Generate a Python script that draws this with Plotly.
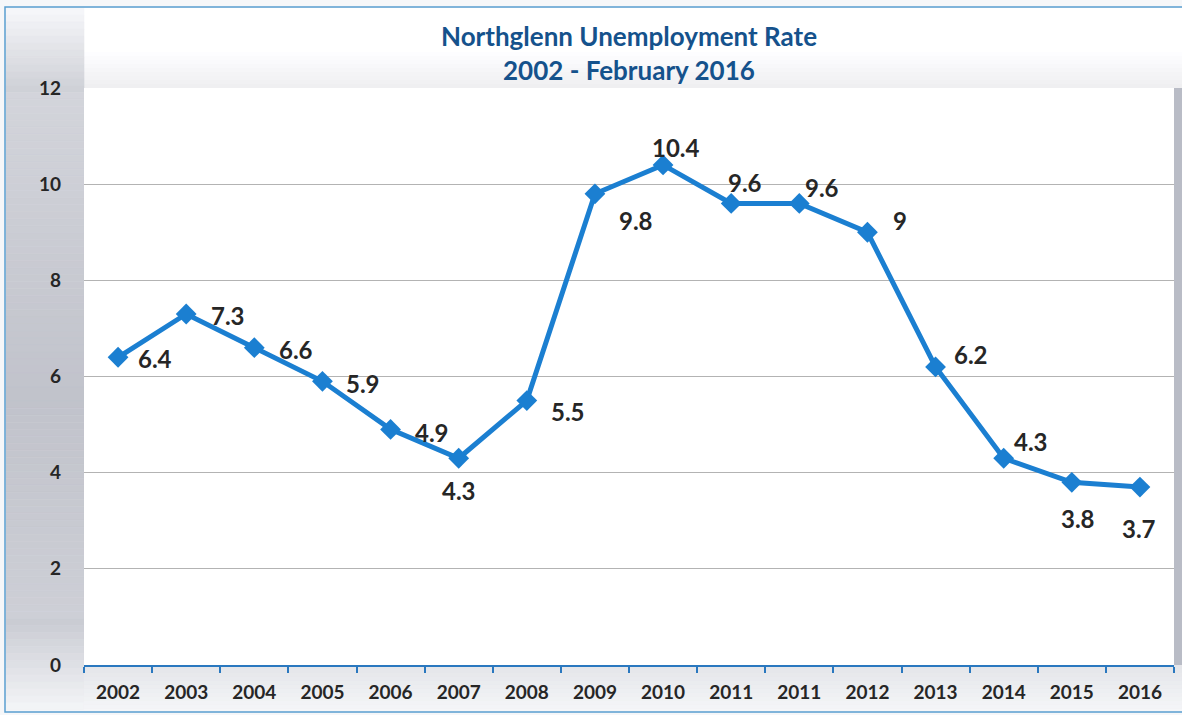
import plotly.graph_objects as go

years = ["2002", "2003", "2004", "2005", "2006", "2007", "2008", "2009",
         "2010", "2011", "2011", "2012", "2013", "2014", "2015", "2016"]
rates = [6.4, 7.3, 6.6, 5.9, 4.9, 4.3, 5.5, 9.8, 10.4, 9.6, 9.6, 9.0, 6.2, 4.3, 3.8, 3.7]
labels = ["6.4", "7.3", "6.6", "5.9", "4.9", "4.3", "5.5", "9.8", "10.4",
          "9.6", "9.6", "9", "6.2", "4.3", "3.8", "3.7"]
y_ticks = [0, 2, 4, 6, 8, 10, 12]

# label offsets (pixels) – style only
label_dx = [37, 42, 42, 41, 41, 0, 41, 41, 13, 14, 23, 33, 35, 27, 6, -1]
label_dy = [-1, -2, -2, -2, -3, -32, -11, -27, 17, 21, 16, 12, 12, 17, -36, -41]

xpos = list(range(len(years)))

LINE = "#1b7fd1"
TEXT = "#262626"
TITLE = "#15528c"
FONT = "Lato"

W, H = 1182, 715
L, R, T, B = 84, 8, 88, 50
pw, ph = W - L - R, H - T - B


def px_x(p):
    return (p - L) / pw


def px_y(p):
    return (H - B - p) / ph


fig = go.Figure()
fig.add_trace(go.Scatter(
    x=xpos, y=rates, mode="lines+markers",
    line=dict(color=LINE, width=5),
    marker=dict(symbol="diamond", size=16, color=LINE),
    hoverinfo="skip", showlegend=False,
))

annotations = []
for i, (v, t) in enumerate(zip(rates, labels)):
    annotations.append(dict(
        x=xpos[i], y=v, xref="x", yref="y", text=t, showarrow=False,
        xanchor="center", yanchor="middle",
        xshift=label_dx[i], yshift=label_dy[i],
        font=dict(family=FONT, size=24, color=TEXT, weight="bold"),
    ))
annotations.append(dict(x=0.5, y=px_y(36), xref="paper", yref="paper",
                        text="Northglenn Unemployment Rate", showarrow=False,
                        yanchor="middle",
                        font=dict(family=FONT, size=26, color=TITLE, weight="bold")))
annotations.append(dict(x=0.5, y=px_y(70), xref="paper", yref="paper",
                        text="2002 - February 2016", showarrow=False, yanchor="middle",
                        font=dict(family=FONT, size=26, color=TITLE, weight="bold")))

shapes = []
# top area: white fading to light gray near plot top
n_top = 20
for k in range(n_top):
    y0 = 8 + k * 4
    y1 = y0 + 4
    d = 0.0 if k < 10 else 0.07 * (k - 10) / (n_top - 10)
    c = int(round(255 - d * 255))
    shapes.append(dict(type="rect", xref="paper", yref="paper", layer="below",
                       x0=px_x(6), x1=px_x(W), y0=px_y(y1), y1=px_y(y0),
                       fillcolor=f"rgb({c},{c},{min(255, c + 2)})", line=dict(width=0)))
# left gradient strip (bands by y)
n = 100
step = (710 - 8) / n
for k in range(n):
    y0 = 8 + k * step
    y1 = y0 + step
    mid = (y0 + y1) / 2
    if mid < 90:
        d = 0.02 + 0.3 * (mid - 8) / 82
    elif mid < 620:
        d = 0.32 + 0.1 * (1 - abs(mid - 400) / 230)
    else:
        d = 0.32 * (1 - (mid - 620) / 90) + 0.04
    d = max(0.02, min(0.45, d))
    r = int(250 - d * 135)
    g = int(251 - d * 133)
    b = int(253 - d * 118)
    col = f"rgb({r},{g},{b})"
    shapes.append(dict(type="rect", xref="paper", yref="paper", layer="below",
                       x0=px_x(6), x1=px_x(L), y0=px_y(y1), y1=px_y(y0),
                       fillcolor=col, line=dict(width=0.6, color=col)))
# bottom band gradient under axis
for k in range(12):
    y0 = 665 + k * 4
    y1 = y0 + 4
    d = 0.16 * (1 - k / 12) + 0.03
    r = int(250 - d * 110)
    g = int(251 - d * 108)
    b = int(253 - d * 100)
    col = f"rgb({r},{g},{b})"
    shapes.append(dict(type="rect", xref="paper", yref="paper", layer="below",
                       x0=px_x(L), x1=px_x(W), y0=px_y(y1), y1=px_y(y0),
                       fillcolor=col, line=dict(width=0.6, color=col)))
# right gray edge
shapes.append(dict(type="rect", xref="paper", yref="paper", layer="below",
                   x0=px_x(1174), x1=px_x(W), y0=px_y(665), y1=px_y(88),
                   fillcolor="#b9bcc6", line=dict(width=0)))
# plot area white
shapes.append(dict(type="rect", xref="paper", yref="paper", layer="below",
                   x0=0, x1=1, y0=0, y1=1, fillcolor="#ffffff", line=dict(width=0)))
# outer frame
shapes.append(dict(type="rect", xref="paper", yref="paper", layer="above",
                   x0=px_x(5), x1=px_x(1190), y0=px_y(712), y1=px_y(7),
                   fillcolor="rgba(0,0,0,0)", line=dict(color="#5a9fd0", width=1.5)))

fig.update_layout(
    width=W, height=H,
    margin=dict(l=L, r=R, t=T, b=B, pad=0),
    paper_bgcolor="#f6f7f9",
    plot_bgcolor="rgba(0,0,0,0)",
    shapes=shapes,
    annotations=annotations,
    showlegend=False,
    xaxis=dict(
        range=[-0.5, len(years) - 0.5],
        tickmode="array", tickvals=xpos, ticktext=years,
        ticks="", showgrid=False, zeroline=False,
        showline=True, linecolor="#2a78bf", linewidth=2,
        tickfont=dict(family=FONT, size=19, color=TEXT, weight="bold"),
        ticklabelstandoff=9,
        minor=dict(tickmode="array",
                   tickvals=[p - 0.5 for p in xpos] + [len(years) - 0.5],
                   ticks="outside", ticklen=6, tickwidth=2, tickcolor="#2a78bf",
                   showgrid=False),
        fixedrange=True,
    ),
    yaxis=dict(
        range=[0, 12], tickmode="array", tickvals=y_ticks,
        showgrid=True, gridcolor="#b3b3b3", gridwidth=1.2,
        zeroline=False, showline=False, ticks="",
        tickfont=dict(family=FONT, size=19, color=TEXT, weight="bold"),
        ticklabelstandoff=22,
        fixedrange=True,
    ),
)

fig.write_html("out.html", config={"displayModeBar": False},
               post_script="document.body.style.margin='0';")
